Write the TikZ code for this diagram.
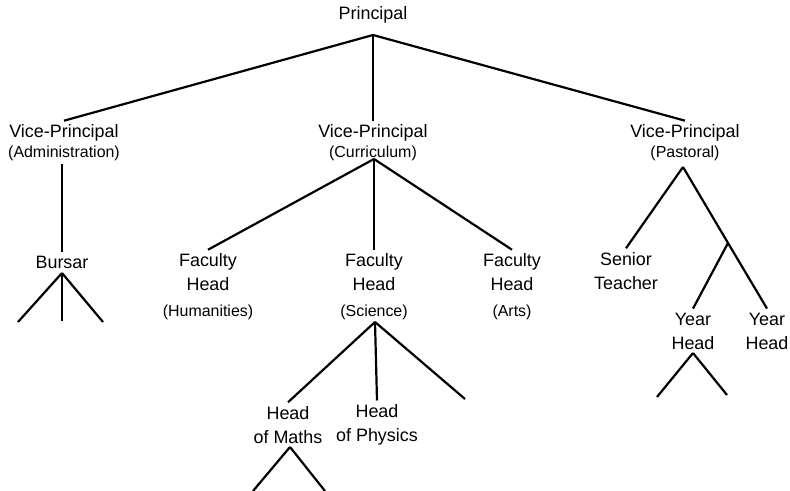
\documentclass[tikz,border=0pt]{standalone}
\usepackage{fontspec}
\setmainfont{Liberation Sans}
\newcommand{\subttl}[1]{{\fontsize{16}{20}\selectfont #1}}

\begin{document}
\begin{tikzpicture}[x=1bp, y=-1bp]
    \useasboundingbox (0,0) rectangle (790,491);

    \begin{scope}[every node/.style={align=center,inner sep=4bp,font=\fontsize{18}{24}\selectfont}]
        \node (P) at (373, 15) {Principal};

        \node (V_1) at (64, 143) {Vice-Principal\\[-4bp]\subttl{(Administration)}};
        \node (V_2) at (373, 143) {Vice-Principal\\[-4bp]\subttl{(Curriculum)}};
        \node (V_3) at (685, 143) {Vice-Principal\\[-4bp]\subttl{(Pastoral)}};

        \node (B) at (62, 262) {Bursar};

        \node (F_1) at (208, 287) {Faculty\\Head\\[2bp]\subttl{(Humanities)}};
        \node (F_2) at (374, 287) {Faculty\\Head\\[2bp]\subttl{(Science)}};
        \node (F_3) at (512, 287) {Faculty\\Head\\[2bp]\subttl{(Arts)}};

        \node (S) at (626, 271) {Senior\\Teacher};
        \node (Y_1) at (693, 331) {Year\\Head};
        \node (Y_2) at (767, 331) {Year\\Head};

        \node (H_1) at (288, 425) {Head\\of Maths};
        \node (H_2) at (377, 425) {Head\\of Physics};
    \end{scope}

    % junctions and open ends
    \coordinate (P_j) at (373, 35);
    \coordinate (V_1j) at (62, 164);
    \coordinate (V_2j) at (374, 159);
    \coordinate (V_3j) at (683, 167);
    \coordinate (B_j) at (62, 273);
    \coordinate (B_l) at (18, 322);
    \coordinate (B_m) at (62, 321);
    \coordinate (B_r) at (103, 322);
    \coordinate (F_2j) at (375, 322);
    \coordinate (F_2r) at (465, 399);
    \coordinate (H_1j) at (290, 447);
    \coordinate (H_1l) at (253, 491);
    \coordinate (H_1r) at (325, 491);
    \coordinate (Y_j) at (728, 243);
    \coordinate (Y_1j) at (693, 353);
    \coordinate (Y_1l) at (657, 397);
    \coordinate (Y_1r) at (727, 395);

    \begin{scope}[every edge/.style={draw=black,line width=2.2bp}]
        \path (P_j) edge (V_1.north);
        \path (P_j) edge (V_2.north);
        \path (P_j) edge (V_3.north);

        \path (V_1j) edge (B.north);
        \path (B_j) edge (B_l);
        \path (B_j) edge (B_m);
        \path (B_j) edge (B_r);

        \path (V_2j) edge (F_1.north);
        \path (V_2j) edge (F_2.north);
        \path (V_2j) edge (F_3.north);

        \path (F_2j) edge (H_1.north);
        \path (F_2j) edge (H_2.north);
        \path (F_2j) edge (F_2r);

        \path (H_1j) edge (H_1l);
        \path (H_1j) edge (H_1r);

        \path (V_3j) edge (S.north);
        \path (V_3j) edge (Y_j);
        \path (Y_j) edge (Y_1.north);
        \path (Y_j) edge (Y_2.north);

        \path (Y_1j) edge (Y_1l);
        \path (Y_1j) edge (Y_1r);
    \end{scope}
\end{tikzpicture}
\end{document}
